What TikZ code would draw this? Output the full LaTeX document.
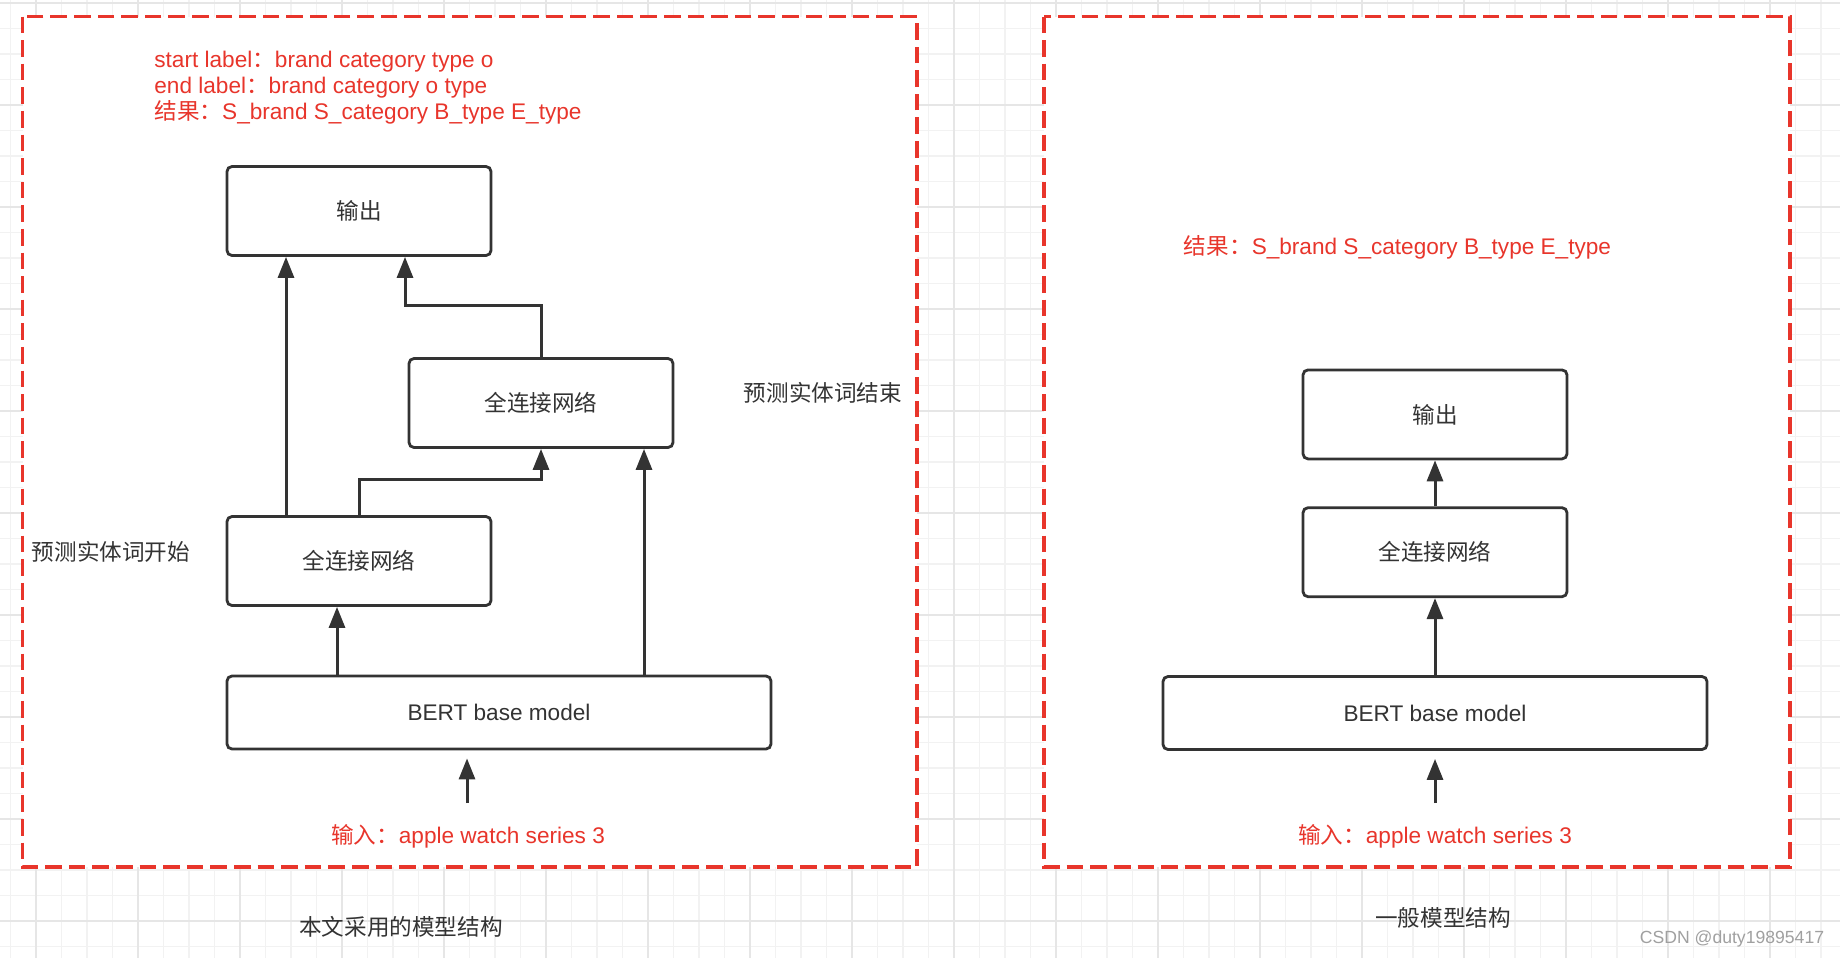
\documentclass[tikz,border=0pt]{standalone}
\usepackage{fontspec}
\setmainfont{Liberation Sans}
\newfontfamily\cjk{Noto Sans CJK SC}
\usetikzlibrary{arrows.meta,positioning}
\definecolor{LineDark}{HTML}{333333}
\definecolor{MarkRed}{HTML}{E8352B}
\definecolor{GridMinor}{HTML}{F2F2F2}
\definecolor{GridMajor}{HTML}{E6E6E6}
\definecolor{WaterGray}{HTML}{A0A0A0}
\newcommand{\zh}[1]{{\cjk #1}}

\begin{document}
\begin{tikzpicture}[x=0.5pt,y=-0.5pt,
  blk/.style={rectangle,rounded corners=2.5pt,draw=LineDark,line width=1.4pt,
              fill=white,minimum width=132pt,minimum height=44.5pt,
              text=LineDark,font=\fontsize{11.3}{13}\selectfont},
  wide/.style={blk,minimum width=272pt,minimum height=36.5pt},
  panel/.style={draw=MarkRed,line width=1.6pt,dash pattern=on 8.3pt off 3.5pt,
                fill=white},
  redlbl/.style={text=MarkRed,font=\fontsize{11.3}{13}\selectfont,inner sep=0pt},
  blklbl/.style={text=LineDark,font=\fontsize{11.3}{13}\selectfont,inner sep=0pt},
  arr/.style={-{Triangle[length=10.5pt,width=8pt]},line width=1.5pt,LineDark}]
\useasboundingbox (0,0) rectangle (1840,958);
% grid background
\fill[white] (0,0) rectangle (1840,958);
\foreach \gx in {10.5,36,...,1840} \draw[GridMinor,line width=0.6pt] (\gx,0) -- (\gx,958);
\foreach \gy in {3,28.5,...,958} \draw[GridMinor,line width=0.6pt] (0,\gy) -- (1840,\gy);
\foreach \gx in {36,138,...,1840} \draw[GridMajor,line width=0.8pt] (\gx,0) -- (\gx,958);
\foreach \gy in {3,105,...,958} \draw[GridMajor,line width=0.8pt] (0,\gy) -- (1840,\gy);
% the two panels
\draw[panel] (22.5,16.5) rectangle (917,867);
\draw[panel] (1044,16.5) rectangle (1790,867);

% left: start/end model
\node[redlbl,anchor=west,align=left] (tags1) at (154,88)
  {start label\zh{：}brand category type o\\
   end label\zh{：}brand category o type\\
   \zh{结果：}S\_brand S\_category B\_type E\_type};
\node[blk] (out1) at (359,211) {\zh{输出}};
\node[blk] (fcE) at (541,403) {\zh{全连接网络}};
\node[blk] (fcS) at (359,561) {\zh{全连接网络}};
\node[wide] (bert1) at (499,712.5) {BERT base model};
\node[redlbl] (in1) at (468,836) {\zh{输入：}apple watch series 3};
\node[blklbl] (hintE) at (823,393) {\zh{预测实体词结束}};
\node[blklbl] (hintS) at (111,552) {\zh{预测实体词开始}};
\node[blklbl] (cap1) at (401,927) {\zh{本文采用的模型结构}};
\coordinate (src1) at (467,803);
\draw[arr] (src1) -- ([xshift=-16pt,yshift=-4pt]bert1.south);
\draw[arr] ([xshift=-81pt]bert1.north) -- ([xshift=-11pt]fcS.south);
\draw[arr] ([xshift=72.5pt]bert1.north) -- ([xshift=51.5pt]fcE.south);
\draw[arr] ([xshift=-36.5pt]fcS.north) -- ([xshift=-36.5pt]out1.south);
\draw[arr] (fcS.north) -- ++(0,-36) -| (fcE.south);
\draw[arr] (fcE.north) -- ++(0,-52) -| ([xshift=23pt]out1.south);

% right: plain model
\node[redlbl] (tags2) at (1397.5,247) {\zh{结果：}S\_brand S\_category B\_type E\_type};
\node[wide] (bert2) at (1435,713) {BERT base model};
\node[blk,above=38.5pt of bert2] (fc2) {\zh{全连接网络}};
\node[blk,above=23pt of fc2] (out2) {\zh{输出}};
\node[redlbl] (in2) at (1435,836) {\zh{输入：}apple watch series 3};
\node[blklbl] (cap2) at (1443,918) {\zh{一般模型结构}};
\coordinate (src2) at (1435,803);
\draw[arr] (src2) -- ([yshift=-4pt]bert2.south);
\draw[arr] (bert2.north) -- (fc2.south);
\draw[arr] (fc2.north) -- (out2.south);

\node[text=WaterGray,font=\fontsize{8.8}{10}\selectfont,inner sep=0pt] (mark) at (1732,939) {CSDN @duty19895417};
\end{tikzpicture}
\end{document}
